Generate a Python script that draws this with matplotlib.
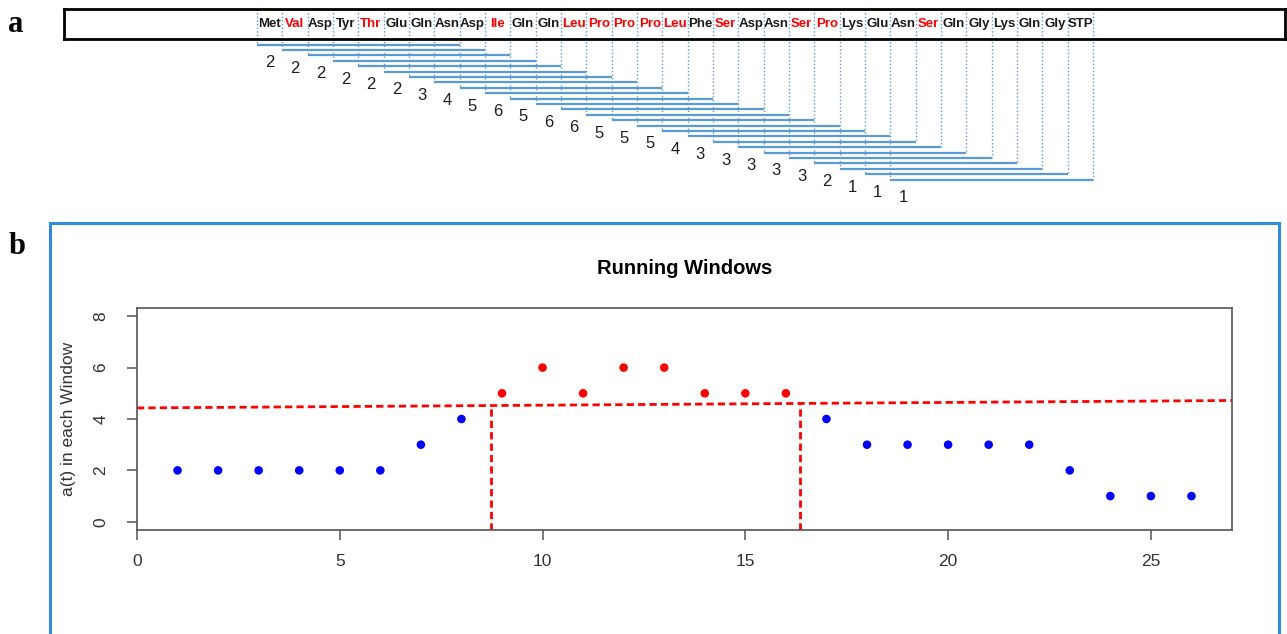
"""Running windows over a peptide sequence: window layout (a) and counts (b)."""

import matplotlib
matplotlib.use("Agg")
import matplotlib.pyplot as plt
from matplotlib import font_manager
from matplotlib.patches import Rectangle

# ---------------------------------------------------------------- data ----
RESIDUES = ["Met", "Val", "Asp", "Tyr", "Thr", "Glu", "Gln", "Asn", "Asp",
            "Ile", "Gln", "Gln", "Leu", "Pro", "Pro", "Pro", "Leu", "Phe",
            "Ser", "Asp", "Asn", "Ser", "Pro", "Lys", "Glu", "Asn", "Ser",
            "Gln", "Gly", "Lys", "Gln", "Gly", "STP"]
HIGHLIGHTED = {"Val", "Thr", "Ile", "Leu", "Pro", "Ser"}
WINDOW_SIZE = 8

# a(t) in each window
WINDOW_COUNTS = [2, 2, 2, 2, 2, 2, 3, 4, 5, 6, 5, 6, 6, 5, 5, 5, 4, 3, 3, 3,
                 3, 3, 2, 1, 1, 1]
# dashed threshold line (value at x=0 and at x=27) and the two cut points
THRESHOLD_START = 4.43
THRESHOLD_END = 4.72
CUT_POINTS = [8.72, 16.35]

# -------------------------------------------------------------- styles ----
W, H = 1287, 634
LINE_BLUE = "#5b9bd5"
FRAME_BLUE = "#2f8cdb"

installed = {f.name for f in font_manager.fontManager.ttflist}
if "Liberation Sans Narrow" in installed:
    RES_FONT, RES_SIZE = "Liberation Sans Narrow", 12
else:
    RES_FONT, RES_SIZE = "Liberation Sans", 9.5


def fx(px):
    return px / W


def fy(px):
    return 1 - px / H


fig = plt.figure(figsize=(W / 100, H / 100), dpi=100)

# ------------------------------------------------------------- panel a ----
# the black box is the axes frame; x in residue units, y in window levels
box_l, box_r, box_t, box_b = 64, 1285, 8.5, 39.0
seq_l, seq_r = 257, 1093
unit = (seq_r - seq_l) / len(RESIDUES)
line0, step = 39.1, 5.4   # pixel row of level 0 and spacing between levels

ax_a = fig.add_axes([fx(box_l), fy(box_b), fx(box_r - box_l),
                     (box_b - box_t) / H])
ax_a.set_xlim((box_l - seq_l) / unit, (box_r - seq_l) / unit)
y_top = (box_t - line0) / step
y_bot = (box_b - line0) / step
ax_a.set_ylim(y_bot, y_top)
ax_a.set_xticks([])
ax_a.set_yticks([])
for sp in ax_a.spines.values():
    sp.set_linewidth(2.0)
    sp.set_color("black")

for i, res in enumerate(RESIDUES):
    ax_a.text(i + 0.5, 0.5, res, transform=ax_a.get_xaxis_transform(),
              ha="center", va="center", fontsize=RES_SIZE,
              fontweight="bold", family=[RES_FONT, "DejaVu Sans"],
              color="red" if res in HIGHLIGHTED else "#1a1a1a")

n_win = len(WINDOW_COUNTS)
for j in range(1, n_win + 1):
    start, end = j - 1, j - 1 + WINDOW_SIZE
    ax_a.hlines(j, start, end, color=LINE_BLUE, lw=1.6, clip_on=False)
    ax_a.text(j - 0.5, j + 3.4, str(WINDOW_COUNTS[j - 1]), ha="center",
              va="center", fontsize=12, family="Liberation Sans",
              color="#1e1e1e", clip_on=False)

for k in range(len(RESIDUES) + 1):
    depth = []
    if k < n_win:
        depth.append(k + 1)
    if k >= WINDOW_SIZE:
        depth.append(k - WINDOW_SIZE + 1)
    ax_a.vlines(k, y_top, max(depth), color=LINE_BLUE, lw=1.0,
                linestyles=(0, (1, 1.6)), clip_on=False, zorder=1)

fig.text(fx(16), fy(24), "a", ha="center", va="center", fontsize=22,
         fontweight="bold", family="Liberation Serif")

# ------------------------------------------------------------- panel b ----
fig.patches.append(Rectangle((fx(50), fy(H + 20)), fx(1279 - 50),
                             (H + 20 - 223) / H, transform=fig.transFigure,
                             fill=False, edgecolor=FRAME_BLUE, lw=2.2))
fig.text(fx(17), fy(247), "b", ha="center", va="center", fontsize=22,
         fontweight="bold", family="Liberation Serif")

p_l, p_r, p_t, p_b = 137, 1232, 308, 530
ax = fig.add_axes([fx(p_l), fy(p_b), fx(p_r - p_l), (p_b - p_t) / H])
ax.set_xlim(0, 27)
ax.set_ylim(-0.32, 8.32)
ax.set_xticks(range(0, 26, 5))
ax.set_yticks(range(0, 9, 2))
for sp in ax.spines.values():
    sp.set_color("#555555")
    sp.set_linewidth(1.2)
ax.tick_params(direction="out", length=7.5, width=1.1, color="#555555",
               labelsize=12.5, labelcolor="#333333")
ax.tick_params(axis="x", pad=10)
ax.tick_params(axis="y", pad=13, labelrotation=90)
for lab in ax.get_yticklabels():
    lab.set_va("center")
    lab.set_family("Liberation Sans")
for lab in ax.get_xticklabels():
    lab.set_family("Liberation Sans")


def threshold(x):
    return THRESHOLD_START + (THRESHOLD_END - THRESHOLD_START) * x / 27


t = list(range(1, n_win + 1))
colors = ["red" if v > threshold(x) else "blue"
          for x, v in zip(t, WINDOW_COUNTS)]
ax.scatter(t, WINDOW_COUNTS, c=colors, s=38, linewidths=0, zorder=3)

dash = dict(color="red", lw=2.0, dashes=(2.6, 1.5))
ax.plot([0, 27], [threshold(0), threshold(27)], **dash)
for c in CUT_POINTS:
    ax.plot([c, c], [-0.32, threshold(c)], **dash)

ax.text(0.5, 1 + (p_t - 268) / (p_b - p_t), "Running Windows",
        transform=ax.transAxes, ha="center", va="center", fontsize=14.5,
        fontweight="bold", family="Liberation Sans")
ax.text((68 - p_l) / (p_r - p_l), 0.5, "a(t) in each Window",
        transform=ax.transAxes, rotation=90, ha="center", va="center",
        fontsize=12.5, family="Liberation Sans", color="#333333")

fig.savefig("out.png", dpi=100)
